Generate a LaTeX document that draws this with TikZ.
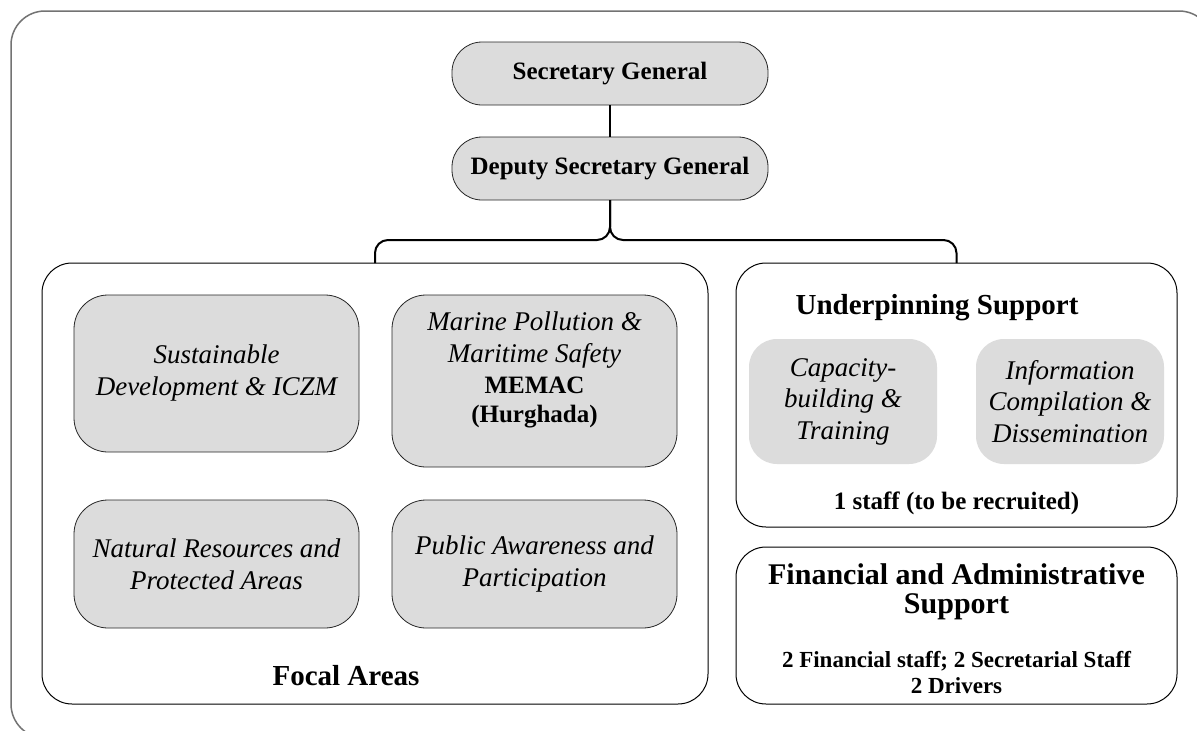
\documentclass[tikz,border=0pt]{standalone}
\usepackage{fontspec}
\setmainfont{Liberation Serif}
\definecolor{boxgrey}{RGB}{220,220,220}
\definecolor{framegrey}{RGB}{115,115,115}
\begin{document}
\begin{tikzpicture}[x=1pt,y=-1pt,
  every node/.style={inner sep=0pt, outer sep=0pt},
  pill/.style={draw=black!85, fill=boxgrey, line width=0.8pt, rounded corners=30pt,
    minimum width=316pt, minimum height=63pt, font=\fontsize{25}{30}\selectfont\bfseries},
  group/.style={draw=black, line width=1pt, rounded corners=30pt},
  area/.style={draw=black!85, fill=boxgrey, line width=0.8pt, rounded corners=34pt,
    minimum width=285pt, align=center, font=\fontsize{27}{32}\selectfont\itshape},
  support/.style={fill=boxgrey, rounded corners=28pt, minimum width=188pt, minimum height=125pt,
    align=center, font=\fontsize{27}{31.5}\selectfont\itshape},
  title/.style={font=\fontsize{29}{30}\selectfont\bfseries, align=center},
  conn/.style={draw=black, line width=2pt, rounded corners=13pt}
]
\useasboundingbox (0,0) rectangle (1197,731);
\clip (0,0) rectangle (1197,731);
\fill[white] (0,0) rectangle (1197,731);
% outer frame
\draw[framegrey, line width=1.5pt, rounded corners=34pt] (11,11) rectangle (1213,738);

% top of hierarchy
\node[pill] (sg) at (610,73.5) {Secretary General};
\node[pill] (dsg) at (610,168.5) {Deputy Secretary General};

% groups
\node[group, minimum width=666pt, minimum height=441pt] (focal) at (375,483.5) {};
\node[group, minimum width=441pt, minimum height=264pt] (under) at (956.5,395) {};
\node[group, minimum width=441pt, minimum height=157pt] (fin) at (956.5,625.5) {};

% focal areas
\node[area, minimum height=157pt] (sd) at (216.5,373.5) {Sustainable\\Development \& ICZM};
\node[area, minimum height=172pt] (mp) at (534.5,381) {};
\node[font=\fontsize{27}{32}\selectfont\itshape, align=center] (mpt) at (534.5,340) {Marine Pollution \&\\Maritime Safety};
\node[font=\fontsize{25}{29}\selectfont\bfseries, align=center] (mpm) at (534.5,402) {MEMAC\\(Hurghada)};
\node[area, minimum height=128pt] (nr) at (216.5,564) {Natural Resources and\\Protected Areas};
\node[area, minimum height=128pt] (pa) at (534.5,564) {Public Awareness and\\Participation};
\node[title] (focalt) at (346,676) {Focal Areas};

% underpinning support
\node[title] (undert) at (937,308) {Underpinning Support};
\node[support] (cap) at (843,401.5) {Capacity-\\building \&\\Training};
\node[support] (info) at (1070,401.5) {Information\\Compilation \&\\Dissemination};
\node[font=\fontsize{25}{30}\selectfont\bfseries] (staff) at (956.5,503) {1 staff (to be recruited)};

% financial and administrative support
\node[font=\fontsize{30}{29.5}\selectfont\bfseries, align=center] (fint) at (956.5,592) {Financial and Administrative\\Support};
\node[font=\fontsize{23}{26}\selectfont\bfseries, align=center] (fins) at (956.5,673) {2 Financial staff; 2 Secretarial Staff\\2 Drivers};

% connectors
\coordinate (hub) at (610,240);
\draw[conn] (sg.south) -- (dsg.north);
\draw[conn] (dsg.south) |- (focal.north |- hub) -- (focal.north);
\draw[conn] (dsg.south) |- (under.north |- hub) -- (under.north);
\end{tikzpicture}
\end{document}
